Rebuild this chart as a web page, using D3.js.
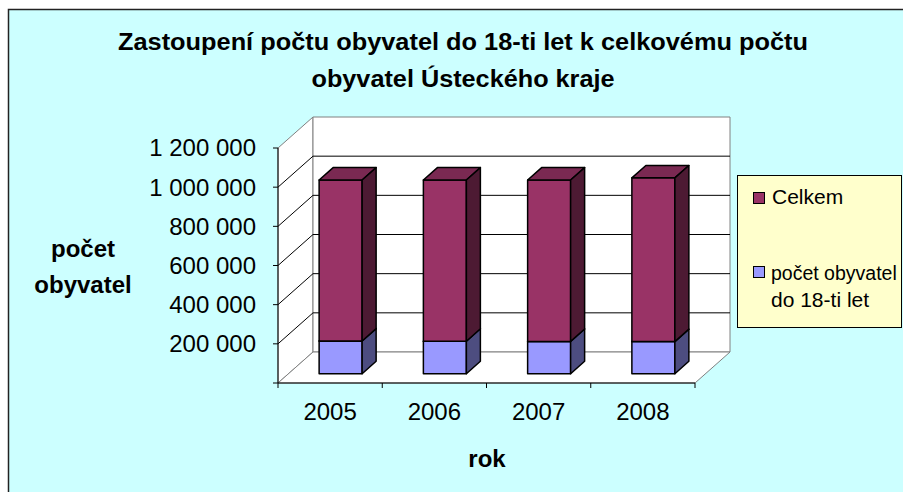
<!DOCTYPE html>
<html>
<head>
<meta charset="utf-8">
<script src="https://cdn.jsdelivr.net/npm/d3@7"></script>
<style>
  body { margin: 0; background: #fff; }
  text { font-family: "Liberation Sans", Arial, sans-serif; fill: #000; }
</style>
</head>
<body>
<div id="chart"></div>
<script>
// data
var years = ["2005", "2006", "2007", "2008"];
var under18 = [167000, 166000, 165000, 164000];   // počet obyvatel do 18-ti let
var total = [822000, 823000, 824000, 836000];      // Celkem
var yTicks = [0, 200000, 400000, 600000, 800000, 1000000, 1200000];
var seriesNames = ["Celkem", "počet obyvatel do 18-ti let"];

var svgWidth = 903;
var svgHeight = 492;

var svg = d3.select("#chart")
  .append("svg")
  .attr("width", svgWidth)
  .attr("height", svgHeight);

// chart area background
svg.append("rect")
  .attr("x", 8.5).attr("y", 9.5)
  .attr("width", svgWidth).attr("height", svgHeight)
  .attr("fill", "#ccffff")
  .attr("stroke", "#222")
  .attr("stroke-width", 1.5);

// front plane scales
var x = d3.scaleBand()
  .domain(years)
  .range([278, 695]);

var y = d3.scaleLinear()
  .domain([0, 1200000])
  .range([383, 148]);

// depth offset of the back wall
var DX = 35, DY = 31;
function px(xv, z) { return xv + z * DX; }
function py(v, z) { return y(v) - z * DY; }
function pts(arr) { return arr.map(p => p.join(",")).join(" "); }

var x0 = x.range()[0], x1 = x.range()[1];
var vMax = y.domain()[1];

// walls and floor
var walls = svg.append("g");
walls.append("polygon") // side wall
  .attr("points", pts([[px(x0, 0), py(0, 0)], [px(x0, 1), py(0, 1)], [px(x0, 1), py(vMax, 1)], [px(x0, 0), py(vMax, 0)]]))
  .attr("fill", "#fff").attr("stroke", "#808080");
walls.append("polygon") // back wall
  .attr("points", pts([[px(x0, 1), py(0, 1)], [px(x1, 1), py(0, 1)], [px(x1, 1), py(vMax, 1)], [px(x0, 1), py(vMax, 1)]]))
  .attr("fill", "#fff").attr("stroke", "#808080");
walls.append("polygon") // floor
  .attr("points", pts([[px(x0, 0), py(0, 0)], [px(x1, 0), py(0, 0)], [px(x1, 1), py(0, 1)], [px(x0, 1), py(0, 1)]]))
  .attr("fill", "#fff").attr("stroke", "#808080");

// gridlines on side and back wall
var grid = svg.append("g").attr("stroke", "#000").attr("stroke-width", 1).attr("fill", "none");
yTicks.filter(v => v > 0 && v < vMax).forEach(function (v) {
  grid.append("polyline")
    .attr("points", pts([[px(x0, 0), py(v, 0)], [px(x0, 1), py(v, 1)], [px(x1, 1), py(v, 1)]]));
});

// axes (front plane)
var axes = svg.append("g").attr("stroke", "#000").attr("stroke-width", 1);
axes.append("line")
  .attr("x1", x0).attr("x2", x0)
  .attr("y1", y(0)).attr("y2", y(vMax));
axes.append("line")
  .attr("x1", x0).attr("x2", x1)
  .attr("y1", y(0)).attr("y2", y(0));
yTicks.forEach(function (v) {
  axes.append("line")
    .attr("x1", x0 - 5).attr("x2", x0)
    .attr("y1", y(v)).attr("y2", y(v));
});
years.concat(["end"]).forEach(function (d, i) {
  var xv = x0 + i * x.bandwidth();
  axes.append("line")
    .attr("x1", xv).attr("x2", xv)
    .attr("y1", y(0)).attr("y2", y(0) + 5);
});

// y tick labels
var fmt = v => d3.format(",")(v).replace(/,/g, " ");
svg.append("g").selectAll("text")
  .data(yTicks.filter(v => v > 0))
  .enter()
  .append("text")
  .attr("x", 256)
  .attr("y", d => y(d))
  .attr("dy", "0.35em")
  .attr("text-anchor", "end")
  .attr("font-size", 24)
  .text(fmt);

// x tick labels
svg.append("g").selectAll("text")
  .data(years)
  .enter()
  .append("text")
  .attr("x", d => x(d) + x.bandwidth() / 2)
  .attr("y", 420)
  .attr("text-anchor", "middle")
  .attr("font-size", 24)
  .text(d => d);

// bars (stacked, 3d boxes)
var zA = 0.3, zB = 0.7;
var barW = 43;
var colors = {
  blue: { front: "#9999ff", top: "#7a7acc", side: "#4d4d80" },
  red: { front: "#993366", top: "#7a2952", side: "#4d1a33" }
};

function box(g, xc, v0, v1, c) {
  var l = xc - barW / 2, r = xc + barW / 2;
  g.append("polygon") // front
    .attr("points", pts([[px(l, zA), py(v0, zA)], [px(r, zA), py(v0, zA)], [px(r, zA), py(v1, zA)], [px(l, zA), py(v1, zA)]]))
    .attr("fill", c.front);
  g.append("polygon") // top
    .attr("points", pts([[px(l, zA), py(v1, zA)], [px(r, zA), py(v1, zA)], [px(r, zB), py(v1, zB)], [px(l, zB), py(v1, zB)]]))
    .attr("fill", c.top);
  g.append("polygon") // side
    .attr("points", pts([[px(r, zA), py(v0, zA)], [px(r, zB), py(v0, zB)], [px(r, zB), py(v1, zB)], [px(r, zA), py(v1, zA)]]))
    .attr("fill", c.side);
}

var bars = svg.append("g")
  .attr("stroke", "#000")
  .attr("stroke-width", 1.5)
  .attr("stroke-linejoin", "round");
years.forEach(function (d, i) {
  var xc = x(d) + x.bandwidth() / 2;
  box(bars, xc, 0, under18[i], colors.blue);
  box(bars, xc, under18[i], under18[i] + total[i], colors.red);
});

// title
var title = svg.append("g")
  .attr("font-weight", "bold")
  .attr("font-size", 23)
  .attr("text-anchor", "middle");
title.append("text")
  .attr("x", 463).attr("y", 50)
  .attr("textLength", 690)
  .attr("lengthAdjust", "spacingAndGlyphs")
  .text("Zastoupení počtu obyvatel do 18-ti let k celkovému počtu");
title.append("text")
  .attr("x", 463).attr("y", 87)
  .attr("textLength", 303)
  .attr("lengthAdjust", "spacingAndGlyphs")
  .text("obyvatel Ústeckého kraje");

// axis titles
var yTitle = svg.append("text")
  .attr("font-weight", "bold")
  .attr("font-size", 24)
  .attr("text-anchor", "middle");
yTitle.append("tspan").attr("x", 83).attr("y", 257).text("počet");
yTitle.append("tspan").attr("x", 83).attr("y", 293).text("obyvatel");

svg.append("text")
  .attr("x", 487).attr("y", 467)
  .attr("font-weight", "bold")
  .attr("font-size", 24)
  .attr("text-anchor", "middle")
  .text("rok");

// legend
var legend = svg.append("g");
legend.append("rect")
  .attr("x", 737.5).attr("y", 175.5)
  .attr("width", 164).attr("height", 152)
  .attr("fill", "#ffffcc")
  .attr("stroke", "#000");
legend.append("rect")
  .attr("x", 753.5).attr("y", 192.5)
  .attr("width", 11).attr("height", 11)
  .attr("fill", colors.red.front).attr("stroke", "#000");
legend.append("text")
  .attr("x", 772).attr("y", 204)
  .attr("font-size", 21)
  .text(seriesNames[0]);
legend.append("rect")
  .attr("x", 753.5).attr("y", 266.5)
  .attr("width", 11).attr("height", 11)
  .attr("fill", colors.blue.front).attr("stroke", "#000");
legend.append("text")
  .attr("x", 771).attr("y", 280)
  .attr("font-size", 19.5)
  .text("počet obyvatel");
legend.append("text")
  .attr("x", 771).attr("y", 307)
  .attr("font-size", 21)
  .text("do 18-ti let");
</script>
</body>
</html>
